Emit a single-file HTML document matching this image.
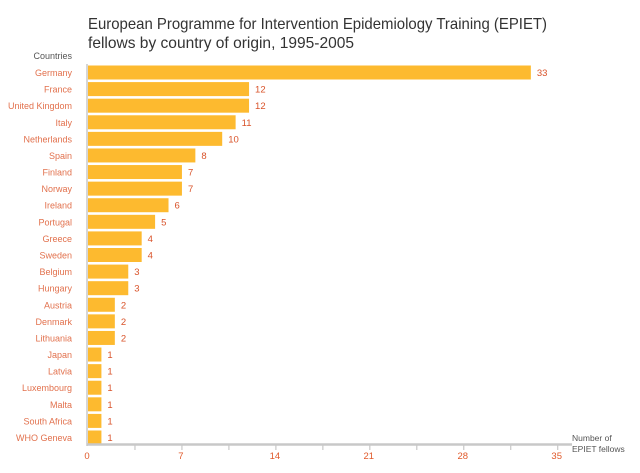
<!DOCTYPE html>
<html><head><meta charset="utf-8"><style>
html,body{margin:0;padding:0;background:#fff;}
svg{display:block;font-family:"Liberation Sans",sans-serif;}
</style></head><body>
<svg width="640" height="473" viewBox="0 0 640 473" xmlns="http://www.w3.org/2000/svg">
<text x="88" y="29" font-size="16" fill="#333" textLength="459" lengthAdjust="spacingAndGlyphs">European Programme for Intervention Epidemiology Training (EPIET)</text>
<text x="88" y="48" font-size="16" fill="#333" textLength="266" lengthAdjust="spacingAndGlyphs">fellows by country of origin, 1995-2005</text>
<text x="72" y="59" font-size="9" fill="#555" text-anchor="end">Countries</text>
<g id="bars"></g>
<line x1="87" y1="64" x2="87" y2="446" stroke="#c8c8c8" stroke-width="1.5"/>
<line x1="87" y1="444.5" x2="572" y2="444.5" stroke="#c8c8c8" stroke-width="2.5"/>
<g id="ticks" stroke="#c8c8c8" stroke-width="1.2"></g>
<g id="tl" font-size="9.5" fill="#e0592a" text-anchor="middle"></g>
<text x="572" y="441" font-size="8.5" fill="#555">Number of</text>
<text x="572" y="452" font-size="8.5" fill="#555">EPIET fellows</text>
</svg>
<script>
var d=[["Germany",33],["France",12],["United Kingdom",12],["Italy",11],["Netherlands",10],["Spain",8],["Finland",7],["Norway",7],["Ireland",6],["Portugal",5],["Greece",4],["Sweden",4],["Belgium",3],["Hungary",3],["Austria",2],["Denmark",2],["Lithuania",2],["Japan",1],["Latvia",1],["Luxembourg",1],["Malta",1],["South Africa",1],["WHO Geneva",1]];
var ns="http://www.w3.org/2000/svg",g=document.getElementById("bars");
var u=13.42,x0=88,pitch=(430.5-65.5)/22;
function el(t,a,txt,p){var e=document.createElementNS(ns,t);for(var k in a)e.setAttribute(k,a[k]);if(txt!=null)e.textContent=txt;(p||g).appendChild(e);}
d.forEach(function(r,i){var y=65.5+i*pitch;
el("rect",{x:x0,y:y,width:r[1]*u,height:14,fill:"#fdba2f"});
el("text",{x:72,y:y+10.5,"font-size":"9","fill":"#e2714d","text-anchor":"end"},r[0]);
el("text",{x:x0+r[1]*u+6,y:y+10.5,"font-size":"9.5","fill":"#d9532a"},String(r[1]));});
var tk=document.getElementById("ticks"),tl=document.getElementById("tl");
for(var k=1;k<=10;k++){var x=x0+k*3.5*u;if(x>570)break;el("line",{x1:x,y1:445,x2:x,y2:450},null,tk);}
for(var k=0;k<=5;k++){el("text",{x:x0+k*7*u-1,y:459},String(k*7),tl);}
</script>
</body></html>
